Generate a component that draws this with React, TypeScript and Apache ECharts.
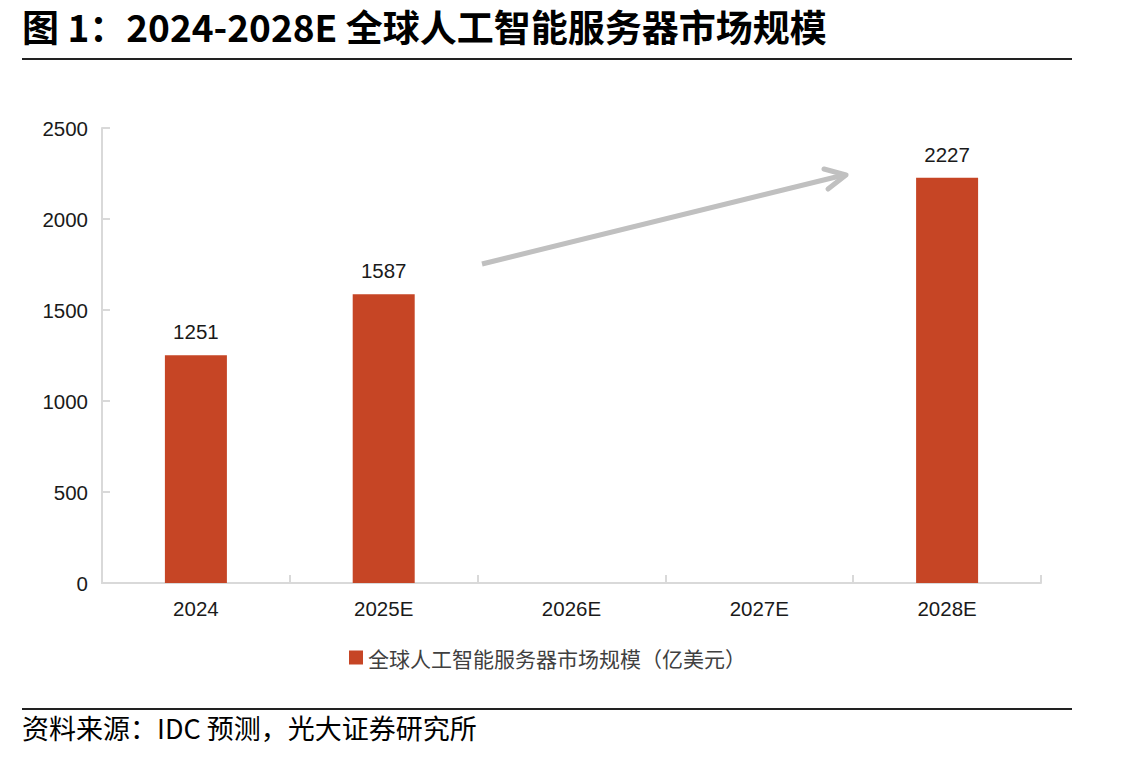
import React, { useEffect, useRef } from "react";
import * as echarts from "echarts";

const categories = ["2024", "2025E", "2026E", "2027E", "2028E"];
const marketSize: (number | null)[] = [1251, 1587, null, null, 2227];
const seriesName = "全球人工智能服务器市场规模（亿美元）";
const titleText = "图 1：2024-2028E 全球人工智能服务器市场规模";
const sourceText = "资料来源：IDC 预测，光大证券研究所";

const CJK = '"Noto Sans CJK SC", "Noto Sans", sans-serif';
const NUM = '"Liberation Sans", Arial, sans-serif';

export default function App() {
  const ref = useRef<HTMLDivElement>(null);

  useEffect(() => {
    if (!ref.current) return;
    const chart = echarts.init(ref.current, null, { renderer: "svg" });
    chart.setOption({
      animation: false,
      backgroundColor: "#ffffff",
      grid: { left: 102, right: 102, top: 128, bottom: 174, containLabel: false },
      xAxis: {
        type: "category",
        data: categories,
        axisLine: { lineStyle: { color: "#d9d9d9", width: 2 } },
        axisTick: { show: true, inside: true, length: 8, lineStyle: { color: "#d9d9d9", width: 2 } },
        axisLabel: { color: "#1a1a1a", fontFamily: NUM, fontSize: 20.5, margin: 15 },
      },
      yAxis: {
        type: "value",
        min: 0,
        max: 2500,
        interval: 500,
        splitLine: { show: false },
        axisLine: { show: true, lineStyle: { color: "#d9d9d9", width: 2 } },
        axisTick: { show: true, inside: true, length: 8, lineStyle: { color: "#d9d9d9", width: 2 } },
        axisLabel: {
          color: "#1a1a1a",
          fontFamily: NUM,
          fontSize: 20.5,
          margin: 14,
          formatter: (v: number) => String(v),
        },
      },
      legend: {
        data: [seriesName],
        bottom: 84,
        left: 344,
        itemWidth: 14,
        itemHeight: 14,
        itemGap: 10,
        icon: "rect",
        textStyle: { color: "#404040", fontFamily: CJK, fontSize: 21 },
      },
      series: [
        {
          name: seriesName,
          type: "bar",
          data: marketSize,
          barWidth: 62,
          itemStyle: { color: "#c64525" },
          label: {
            show: true,
            position: "top",
            distance: 13,
            color: "#1a1a1a",
            fontFamily: NUM,
            fontSize: 20.5,
          },
        },
      ],
      graphic: [
        {
          type: "text",
          x: 22,
          y: 26,
          style: {
            text: titleText,
            fontFamily: CJK,
            fontWeight: "bold",
            fontSize: 37,
            lineHeight: 44,
            fill: "#000",
            verticalAlign: "middle",
          },
        },
        {
          type: "line",
          shape: { x1: 22, y1: 59, x2: 1072, y2: 59 },
          style: { stroke: "#222", lineWidth: 2 },
        },
        {
          type: "line",
          shape: { x1: 22, y1: 709, x2: 1072, y2: 709 },
          style: { stroke: "#222", lineWidth: 2 },
        },
        {
          type: "text",
          x: 22,
          y: 727,
          style: { text: sourceText, fontFamily: CJK, fontSize: 27, fill: "#000", verticalAlign: "middle" },
        },
        {
          type: "line",
          shape: { x1: 482, y1: 264, x2: 844, y2: 175 },
          style: { stroke: "#c0c0c0", lineWidth: 5, lineCap: "butt" },
        },
        {
          type: "polyline",
          shape: { points: [[824, 169], [846, 175], [828, 189]] },
          style: { stroke: "#c0c0c0", lineWidth: 5, fill: null, lineCap: "round", lineJoin: "round" },
        },
      ],
    });
    return () => chart.dispose();
  }, []);

  return <div ref={ref} style={{ width: 1143, height: 757, position: "absolute", left: 0, top: 0 }} />;
}
